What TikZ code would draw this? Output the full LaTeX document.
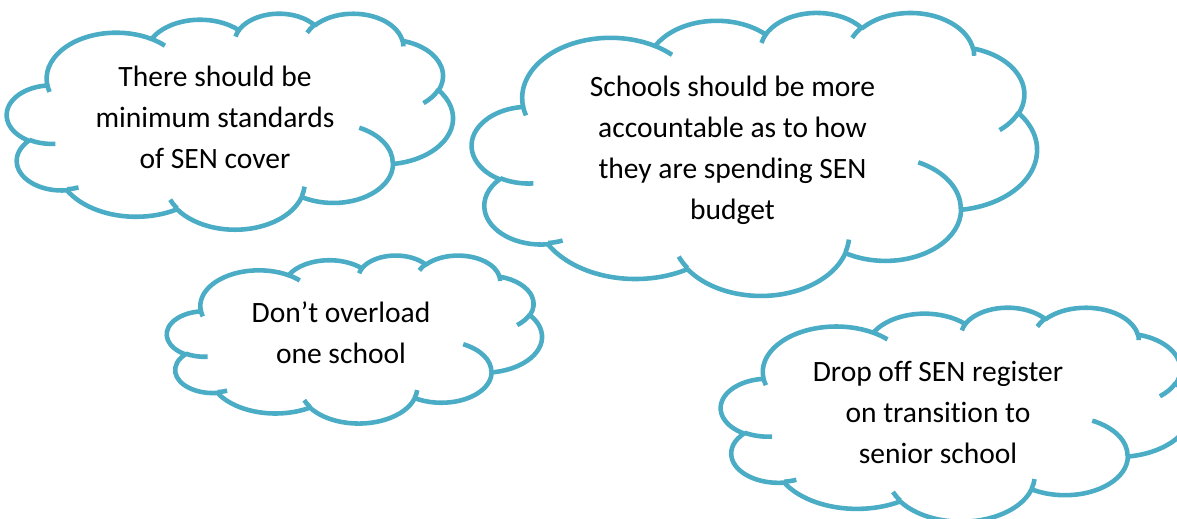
\documentclass[tikz,border=0pt]{standalone}
\usepackage{fontspec}
\setmainfont{Carlito}[Ligatures=NoCommon]
\usetikzlibrary{positioning}

\definecolor{cloudblue}{RGB}{75,172,198}

% angle on the ellipse, office style (60000ths of a degree) to the one arc wants
\newcommand\cloudang[3]{\fpeval{round((#3)/60000
  + ((atand((#1)*sind((#3)/60000),(#2)*cosd((#3)/60000)) - (#3)/60000)
  - 360*round((atand((#1)*sind((#3)/60000),(#2)*cosd((#3)/60000)) - (#3)/60000)/360)),4)}}
% one piece of the cloud: radii wR, hR, start, sweep
\newcommand\oarc[4]{arc[x radius=\fpeval{#1/1000}, y radius=\fpeval{#2/1000},
  start angle=\cloudang{#1}{#2}{#3}, end angle=\cloudang{#1}{#2}{(#3)+(#4)}]}

% cloud with its box: left, top, width, height (pixels)
\newcommand\cloudbox[4]{%
  \begin{scope}[shift={(#1,#2)}, x=1cm, y=1cm, xscale=#3/2160, yscale=-#4/2160]
    % outline
    \draw[cloudline, fill=white] (3.9,14.37)
      \oarc{6753}{9190}{-11429249}{7426832}
      \oarc{5333}{7267}{-8646143}{5396714}
      \oarc{4365}{5945}{-8748475}{5983381}
      \oarc{4857}{6595}{-7859164}{7034504}
      \oarc{5333}{7273}{-4722533}{6541615}
      \oarc{6775}{9220}{-2776035}{7816140}
      \oarc{5785}{7867}{37501}{6842000}
      \oarc{6752}{9215}{1347096}{6910353}
      \oarc{7720}{10543}{3974558}{4542661}
      \oarc{4360}{5918}{-16496525}{8804134}
      \oarc{4345}{5945}{-14809710}{9151131} -- cycle;
    % inner folds
    \draw[cloudline]
      (4.693,26.177) \oarc{4345}{5945}{5204520}{1585770}
      (6.928,34.899) \oarc{4360}{5918}{4416628}{686848}
      (16.478,39.09) \oarc{6752}{9215}{8257449}{844866}
      (28.827,34.751) \oarc{6752}{9215}{387196}{959901}
      (34.129,22.954) \oarc{5785}{7867}{-4217541}{4255042}
      (41.798,15.354) \oarc{5333}{7273}{1819082}{1665090}
      (38.324,5.426) \oarc{4857}{6595}{-824660}{891534}
      (29.078,3.952) \oarc{4857}{6595}{-8950887}{1091722}
      (22.141,4.72) \oarc{4365}{5945}{-9809656}{1061181}
      (14,5.192) \oarc{6753}{9190}{-4002417}{739161}
      (4.127,15.789) \oarc{6753}{9190}{9459261}{711490};
  \end{scope}}

\begin{document}
\begin{tikzpicture}[x=0.02cm, y=-0.02cm,
    cloudline/.style={draw=cloudblue, line width=2.6pt, line join=round},
    cloudtext/.style={align=center, inner sep=0pt, text=black,
      font=\fontsize{16.8}{23.3}\selectfont}]

  \clip (0,0) rectangle (1177,519);

  % the four clouds
  \cloudbox{7}{13}{446}{216}
  \cloudbox{472}{12}{565}{283}
  \cloudbox{167}{255}{375}{168}
  \cloudbox{721}{307}{470}{214}

  % texts
  \node[cloudtext] (cover) at (215,117.5) {There should be\\minimum standards\\of SEN cover};
  \node[cloudtext] (budget) at (732.5,150.5) {Schools should be more\\accountable as to how\\they are spending SEN\\budget};
  \node[cloudtext] (overload) at (341,333) {Don’t overload\\one school};
  \node[cloudtext] (register) at (938,412.5) {Drop off SEN register\\on transition to\\senior school};

\end{tikzpicture}
\end{document}
